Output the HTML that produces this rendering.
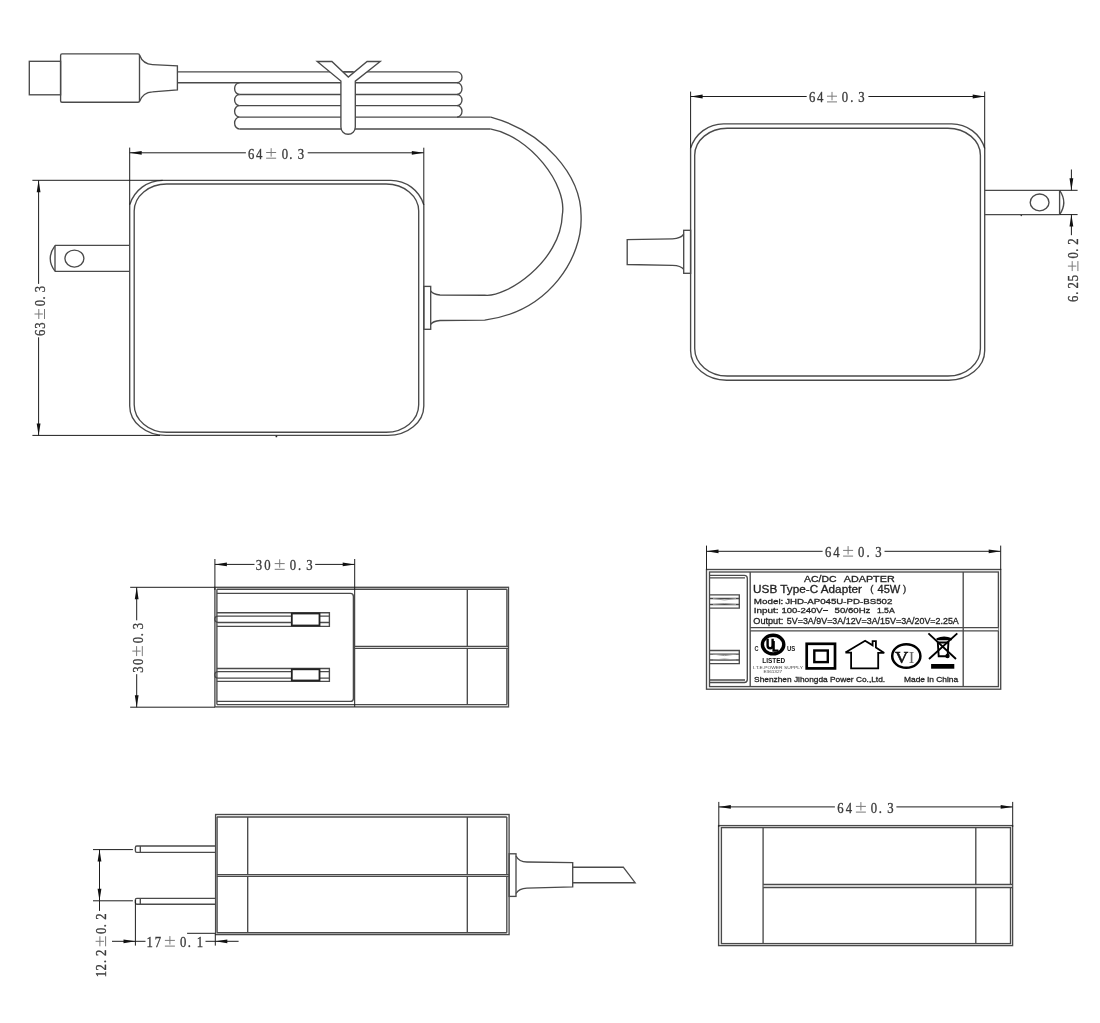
<!DOCTYPE html>
<html><head><meta charset="utf-8"><style>
html,body{margin:0;padding:0;background:#fff;}
svg{display:block;filter:grayscale(1);}

</style></head><body>
<svg width="1100" height="1023" viewBox="0 0 1100 1023">
<rect width="1100" height="1023" fill="#fff"/>
<rect x="29.3" y="61.3" width="31.30" height="33.50" stroke="#4a4a4a" stroke-width="1.35" fill="none"/>
<path d="M62,53.9 H138 Q139.5,53.9 139.5,55.4 V100.7 Q139.5,102.2 138,102.2 H62 Q60.6,102.2 60.6,100.7 V55.4 Q60.6,53.9 62,53.9 Z" stroke="#4a4a4a" stroke-width="1.35" fill="none"/>
<path d="M139.5,55 Q143,64.3 152.5,64.6 L177.4,65.9 V89.9 L152.5,91.8 Q143,92.2 139.5,101.5" stroke="#4a4a4a" stroke-width="1.35" fill="none"/>
<line x1="177.4" y1="71.8" x2="457" y2="71.8" stroke="#4a4a4a" stroke-width="1.35" fill="none"/>
<line x1="177.4" y1="82.7" x2="457" y2="82.7" stroke="#4a4a4a" stroke-width="1.35" fill="none"/>
<line x1="239.5" y1="94.5" x2="457" y2="94.5" stroke="#4a4a4a" stroke-width="1.35" fill="none"/>
<line x1="239.5" y1="105.6" x2="457" y2="105.6" stroke="#4a4a4a" stroke-width="1.35" fill="none"/>
<line x1="239.5" y1="117.1" x2="490.8" y2="117.1" stroke="#4a4a4a" stroke-width="1.35" fill="none"/>
<line x1="239.5" y1="129.0" x2="490.2" y2="129.0" stroke="#4a4a4a" stroke-width="1.35" fill="none"/>
<path d="M239.5,82.7 A4.9,5.90 0 0 0 239.5,94.5" stroke="#4a4a4a" stroke-width="1.35" fill="none"/>
<path d="M239.5,94.5 A4.9,5.55 0 0 0 239.5,105.6" stroke="#4a4a4a" stroke-width="1.35" fill="none"/>
<path d="M239.5,105.6 A4.9,5.75 0 0 0 239.5,117.1" stroke="#4a4a4a" stroke-width="1.35" fill="none"/>
<path d="M239.5,117.1 A4.9,5.95 0 0 0 239.5,129.0" stroke="#4a4a4a" stroke-width="1.35" fill="none"/>
<path d="M457,71.8 A5,5.45 0 0 1 457,82.7" stroke="#4a4a4a" stroke-width="1.35" fill="none"/>
<path d="M457,82.7 A5,5.90 0 0 1 457,94.5" stroke="#4a4a4a" stroke-width="1.35" fill="none"/>
<path d="M457,94.5 A5,5.55 0 0 1 457,105.6" stroke="#4a4a4a" stroke-width="1.35" fill="none"/>
<path d="M457,105.6 A5,5.75 0 0 1 457,117.1" stroke="#4a4a4a" stroke-width="1.35" fill="none"/>
<path d="M490.8,117.1 C543.3,131.7 581.6,174.5 581.1,217.0 C582.4,256.1 551.0,311.1 484.7,320.2 L440,320.5 Q433,321 430.7,324.5" stroke="#4a4a4a" stroke-width="1.35" fill="none"/>
<path d="M490.2,128.9 C529.7,135.8 567.7,184.6 562.3,215.0 C560.8,261.9 505.4,298.0 484.7,295.2 L440,295 Q433,294.5 430.7,290.9" stroke="#4a4a4a" stroke-width="1.35" fill="none"/>
<rect x="423.8" y="286.4" width="6.90" height="42.90" stroke="#4a4a4a" stroke-width="1.35" fill="none"/>
<path d="M317.2,61.5 L331.9,61.5 L348.3,77 L367.1,61.5 L380.2,61.5 L355.3,81.1 L355.3,127.1 A7.2,7.2 0 0 1 340.9,127.1 L340.9,81.1 Z" fill="#fff" stroke="#4a4a4a" stroke-width="1.35" />
<line x1="343.5" y1="71.8" x2="353" y2="71.8" stroke="#4a4a4a" stroke-width="1.35" fill="none"/>
<path d="M166.7,184 H386.2 A32.5,27 0 0 1 418.7,211 V404.7 A32.5,27.5 0 0 1 386.2,432.2 H166.7 A32.5,27.5 0 0 1 134.2,404.7 V211 A32.5,27 0 0 1 166.7,184 Z" stroke="#4a4a4a" stroke-width="1.35" fill="none"/>
<path d="M162.7,180.3 H390.8 A34.5,34.5 0 0 1 423.8,204.8 V405.9 A36,29.5 0 0 1 387.8,435.4 H165.7 A36,29.5 0 0 1 129.7,405.9 V204.8 A34.5,34.5 0 0 1 162.7,180.3 Z" stroke="#4a4a4a" stroke-width="1.35" fill="none"/>
<path d="M55,245.4 H129.7 M55,271.4 H129.7 M55,245.4 V271.4" stroke="#4a4a4a" stroke-width="1.35" fill="none"/>
<path d="M55,245.6 Q45.5,258.4 55,271.2" stroke="#4a4a4a" stroke-width="1.35" fill="none"/>
<ellipse cx="74.4" cy="258.6" rx="9.5" ry="8.5" stroke="#4a4a4a" stroke-width="1.35" fill="none"/>
<line x1="32.4" y1="180.3" x2="162.7" y2="180.3" stroke="#1e1e1e" stroke-width="1"/>
<line x1="32.4" y1="435.4" x2="160" y2="435.4" stroke="#1e1e1e" stroke-width="1"/>
<line x1="129.7" y1="147.6" x2="129.7" y2="204.8" stroke="#1e1e1e" stroke-width="1"/>
<line x1="423.8" y1="147.7" x2="423.8" y2="204.8" stroke="#1e1e1e" stroke-width="1"/>
<line x1="129.7" y1="152.8" x2="245.9" y2="152.8" stroke="#1e1e1e" stroke-width="1"/>
<line x1="307.7" y1="152.8" x2="423.8" y2="152.8" stroke="#1e1e1e" stroke-width="1"/>
<polygon points="129.7,152.8 141.7,150.9 141.7,154.7" fill="#111"/>
<polygon points="423.8,152.8 411.8,150.9 411.8,154.7" fill="#111"/>
<text transform="translate(251.10,158.64) scale(0.82,1)" text-anchor="middle" font-family="Liberation Serif" font-size="15.5" fill="#3a3a3a" stroke="#3a3a3a" stroke-width="0.35">6</text>
<text transform="translate(259.10,158.64) scale(0.82,1)" text-anchor="middle" font-family="Liberation Serif" font-size="15.5" fill="#3a3a3a" stroke="#3a3a3a" stroke-width="0.35">4</text>
<line x1="266.15" y1="152.50" x2="276.15" y2="152.50" stroke="#7a7a7a" stroke-width="1"/>
<line x1="271.15" y1="148.20" x2="271.15" y2="156.60" stroke="#7a7a7a" stroke-width="1"/>
<line x1="266.15" y1="158.20" x2="276.15" y2="158.20" stroke="#7a7a7a" stroke-width="1"/>
<text transform="translate(284.80,158.64) scale(0.82,1)" text-anchor="middle" font-family="Liberation Serif" font-size="15.5" fill="#3a3a3a" stroke="#3a3a3a" stroke-width="0.35">0</text>
<text transform="translate(290.90,158.64) scale(0.82,1)" text-anchor="middle" font-family="Liberation Serif" font-size="15.5" fill="#3a3a3a" stroke="#3a3a3a" stroke-width="0.35">.</text>
<text transform="translate(300.90,158.64) scale(0.82,1)" text-anchor="middle" font-family="Liberation Serif" font-size="15.5" fill="#3a3a3a" stroke="#3a3a3a" stroke-width="0.35">3</text>
<line x1="38.6" y1="180.3" x2="38.6" y2="283.9" stroke="#1e1e1e" stroke-width="1"/>
<line x1="38.6" y1="337.3" x2="38.6" y2="435.4" stroke="#1e1e1e" stroke-width="1"/>
<polygon points="38.6,180.3 36.7,192.3 40.5,192.3" fill="#111"/>
<polygon points="38.6,435.4 36.7,423.4 40.5,423.4" fill="#111"/>
<g transform="translate(39.7,0) rotate(-90)">
<text transform="translate(-332.90,5.24) scale(0.82,1)" text-anchor="middle" font-family="Liberation Serif" font-size="15.5" fill="#3a3a3a" stroke="#3a3a3a" stroke-width="0.35">6</text>
<text transform="translate(-325.70,5.24) scale(0.82,1)" text-anchor="middle" font-family="Liberation Serif" font-size="15.5" fill="#3a3a3a" stroke="#3a3a3a" stroke-width="0.35">3</text>
<line x1="-319.00" y1="-0.90" x2="-309.00" y2="-0.90" stroke="#7a7a7a" stroke-width="1"/>
<line x1="-314.00" y1="-5.20" x2="-314.00" y2="3.20" stroke="#7a7a7a" stroke-width="1"/>
<line x1="-319.00" y1="4.80" x2="-309.00" y2="4.80" stroke="#7a7a7a" stroke-width="1"/>
<text transform="translate(-303.00,5.24) scale(0.82,1)" text-anchor="middle" font-family="Liberation Serif" font-size="15.5" fill="#3a3a3a" stroke="#3a3a3a" stroke-width="0.35">0</text>
<text transform="translate(-298.00,5.24) scale(0.82,1)" text-anchor="middle" font-family="Liberation Serif" font-size="15.5" fill="#3a3a3a" stroke="#3a3a3a" stroke-width="0.35">.</text>
<text transform="translate(-289.20,5.24) scale(0.82,1)" text-anchor="middle" font-family="Liberation Serif" font-size="15.5" fill="#3a3a3a" stroke="#3a3a3a" stroke-width="0.35">3</text>
</g>
<path d="M727.2,128.2 H947.9 A32.5,27 0 0 1 980.4,155.2 V348.5 A32.5,27.5 0 0 1 947.9,376 H727.2 A32.5,27.5 0 0 1 694.7,348.5 V155.2 A32.5,27 0 0 1 727.2,128.2 Z" stroke="#4a4a4a" stroke-width="1.35" fill="none"/>
<path d="M723.6,123.8 H951.7 A34.5,34.5 0 0 1 984.7,148.3 V350.7 A36,29.5 0 0 1 948.7,380.2 H726.6 A36,29.5 0 0 1 690.6,350.7 V148.3 A34.5,34.5 0 0 1 723.6,123.8 Z" stroke="#4a4a4a" stroke-width="1.35" fill="none"/>
<line x1="690.6" y1="91.6" x2="690.6" y2="148.3" stroke="#1e1e1e" stroke-width="1"/>
<line x1="984.7" y1="91.6" x2="984.7" y2="148.3" stroke="#1e1e1e" stroke-width="1"/>
<line x1="690.6" y1="96.5" x2="806.7" y2="96.5" stroke="#1e1e1e" stroke-width="1"/>
<line x1="868.4" y1="96.5" x2="984.7" y2="96.5" stroke="#1e1e1e" stroke-width="1"/>
<polygon points="690.6,96.5 702.6,94.6 702.6,98.4" fill="#111"/>
<polygon points="984.7,96.5 972.7,94.6 972.7,98.4" fill="#111"/>
<text transform="translate(812.10,102.34) scale(0.82,1)" text-anchor="middle" font-family="Liberation Serif" font-size="15.5" fill="#3a3a3a" stroke="#3a3a3a" stroke-width="0.35">6</text>
<text transform="translate(820.20,102.34) scale(0.82,1)" text-anchor="middle" font-family="Liberation Serif" font-size="15.5" fill="#3a3a3a" stroke="#3a3a3a" stroke-width="0.35">4</text>
<line x1="827.00" y1="96.20" x2="837.00" y2="96.20" stroke="#7a7a7a" stroke-width="1"/>
<line x1="832.00" y1="91.90" x2="832.00" y2="100.30" stroke="#7a7a7a" stroke-width="1"/>
<line x1="827.00" y1="101.90" x2="837.00" y2="101.90" stroke="#7a7a7a" stroke-width="1"/>
<text transform="translate(844.85,102.34) scale(0.82,1)" text-anchor="middle" font-family="Liberation Serif" font-size="15.5" fill="#3a3a3a" stroke="#3a3a3a" stroke-width="0.35">0</text>
<text transform="translate(851.85,102.34) scale(0.82,1)" text-anchor="middle" font-family="Liberation Serif" font-size="15.5" fill="#3a3a3a" stroke="#3a3a3a" stroke-width="0.35">.</text>
<text transform="translate(861.30,102.34) scale(0.82,1)" text-anchor="middle" font-family="Liberation Serif" font-size="15.5" fill="#3a3a3a" stroke="#3a3a3a" stroke-width="0.35">3</text>
<path d="M984.7,190.3 H1059.6 M984.7,214.6 H1059.6 M1059.6,190.3 V214.6" stroke="#4a4a4a" stroke-width="1.35" fill="none"/>
<path d="M1059.6,190.3 Q1068,202.4 1059.6,214.6" stroke="#4a4a4a" stroke-width="1.35" fill="none"/>
<line x1="1059.6" y1="190.3" x2="1077.6" y2="190.3" stroke="#1e1e1e" stroke-width="1"/>
<line x1="1059.6" y1="214.6" x2="1077.6" y2="214.6" stroke="#1e1e1e" stroke-width="1"/>
<ellipse cx="1039.6" cy="202.4" rx="9.4" ry="8.4" stroke="#4a4a4a" stroke-width="1.35" fill="none"/>
<line x1="1071.4" y1="169.5" x2="1071.4" y2="190.3" stroke="#1e1e1e" stroke-width="1"/>
<line x1="1071.4" y1="214.6" x2="1071.4" y2="235.2" stroke="#1e1e1e" stroke-width="1"/>
<polygon points="1071.4,190.3 1069.5,178.3 1073.3,178.3" fill="#111"/>
<polygon points="1071.4,214.6 1069.5,226.6 1073.3,226.6" fill="#111"/>
<g transform="translate(1073.1,0) rotate(-90)">
<text transform="translate(-298.75,5.24) scale(0.82,1)" text-anchor="middle" font-family="Liberation Serif" font-size="15.5" fill="#3a3a3a" stroke="#3a3a3a" stroke-width="0.35">6</text>
<text transform="translate(-293.10,5.24) scale(0.82,1)" text-anchor="middle" font-family="Liberation Serif" font-size="15.5" fill="#3a3a3a" stroke="#3a3a3a" stroke-width="0.35">.</text>
<text transform="translate(-285.25,5.24) scale(0.82,1)" text-anchor="middle" font-family="Liberation Serif" font-size="15.5" fill="#3a3a3a" stroke="#3a3a3a" stroke-width="0.35">2</text>
<text transform="translate(-278.05,5.24) scale(0.82,1)" text-anchor="middle" font-family="Liberation Serif" font-size="15.5" fill="#3a3a3a" stroke="#3a3a3a" stroke-width="0.35">5</text>
<line x1="-271.10" y1="-0.90" x2="-261.10" y2="-0.90" stroke="#7a7a7a" stroke-width="1"/>
<line x1="-266.10" y1="-5.20" x2="-266.10" y2="3.20" stroke="#7a7a7a" stroke-width="1"/>
<line x1="-271.10" y1="4.80" x2="-261.10" y2="4.80" stroke="#7a7a7a" stroke-width="1"/>
<text transform="translate(-255.40,5.24) scale(0.82,1)" text-anchor="middle" font-family="Liberation Serif" font-size="15.5" fill="#3a3a3a" stroke="#3a3a3a" stroke-width="0.35">0</text>
<text transform="translate(-250.10,5.24) scale(0.82,1)" text-anchor="middle" font-family="Liberation Serif" font-size="15.5" fill="#3a3a3a" stroke="#3a3a3a" stroke-width="0.35">.</text>
<text transform="translate(-241.55,5.24) scale(0.82,1)" text-anchor="middle" font-family="Liberation Serif" font-size="15.5" fill="#3a3a3a" stroke="#3a3a3a" stroke-width="0.35">2</text>
</g>
<rect x="683.7" y="230.3" width="6.90" height="43.00" stroke="#4a4a4a" stroke-width="1.35" fill="none"/>
<path d="M683.7,234.2 Q681,238.6 672.5,238.8 L627.2,239.7 V264.5 L672.5,265.4 Q681,265.6 683.7,269.4" stroke="#4a4a4a" stroke-width="1.35" fill="none"/>
<rect x="214.9" y="587.3" width="293.60" height="119.60" stroke="#4a4a4a" stroke-width="1.35" fill="none"/>
<line x1="216.9" y1="589.2" x2="506.9" y2="589.2" stroke="#4a4a4a" stroke-width="1.35" fill="none"/>
<line x1="216.9" y1="704.6" x2="506.9" y2="704.6" stroke="#4a4a4a" stroke-width="1.35" fill="none"/>
<line x1="216.9" y1="589.2" x2="216.9" y2="704.6" stroke="#4a4a4a" stroke-width="1.35" fill="none"/>
<line x1="506.9" y1="589.2" x2="506.9" y2="704.6" stroke="#4a4a4a" stroke-width="1.35" fill="none"/>
<line x1="354.7" y1="559" x2="354.7" y2="706.9" stroke="#1e1e1e" stroke-width="1"/>
<line x1="467.3" y1="589.2" x2="467.3" y2="704.6" stroke="#4a4a4a" stroke-width="1.35" fill="none"/>
<rect x="355.4" y="646.3" width="152.4" height="2.1" fill="#fff"/>
<line x1="354.7" y1="646.3" x2="508.5" y2="646.3" stroke="#4a4a4a" stroke-width="1.35" fill="none"/>
<line x1="354.7" y1="648.4" x2="508.5" y2="648.4" stroke="#4a4a4a" stroke-width="1.35" fill="none"/>
<path d="M216.9,593.4 H350.4 Q353.4,593.4 353.4,596.4 V698.4 Q353.4,701.4 350.4,701.4 H216.9" stroke="#4a4a4a" stroke-width="1.35" fill="none"/>
<path d="M216.9,612.7 H329.4 V626.3 H216.9" stroke="#4a4a4a" stroke-width="1.35" fill="none"/>
<path d="M291.8,616.1 H218 A3.2,3.20 0 0 0 218,622.5 H291.8" stroke="#4a4a4a" stroke-width="1.35" fill="none"/>
<path d="M319.5,616.1 H329.4 M319.5,622.5 H329.4" stroke="#4a4a4a" stroke-width="1.35" fill="none"/>
<rect x="291.8" y="613.5" width="27.7" height="12.0" fill="#fff" stroke="#222" stroke-width="1.8"/>
<path d="M216.9,668.5 H329.4 V681.3 H216.9" stroke="#4a4a4a" stroke-width="1.35" fill="none"/>
<path d="M291.8,671.6 H218 A3.2,3.25 0 0 0 218,678.1 H291.8" stroke="#4a4a4a" stroke-width="1.35" fill="none"/>
<path d="M319.5,671.6 H329.4 M319.5,678.1 H329.4" stroke="#4a4a4a" stroke-width="1.35" fill="none"/>
<rect x="291.8" y="669.3" width="27.7" height="11.2" fill="#fff" stroke="#222" stroke-width="1.8"/>
<line x1="130.2" y1="587.3" x2="214.9" y2="587.3" stroke="#1e1e1e" stroke-width="1"/>
<line x1="130.2" y1="707.2" x2="214.9" y2="707.2" stroke="#1e1e1e" stroke-width="1"/>
<line x1="214.9" y1="559" x2="214.9" y2="590" stroke="#1e1e1e" stroke-width="1"/>
<line x1="214.9" y1="564.4" x2="254.5" y2="564.4" stroke="#1e1e1e" stroke-width="1"/>
<line x1="315.2" y1="564.4" x2="354.7" y2="564.4" stroke="#1e1e1e" stroke-width="1"/>
<polygon points="214.9,564.4 226.9,562.5 226.9,566.3" fill="#111"/>
<polygon points="354.7,564.4 342.7,562.5 342.7,566.3" fill="#111"/>
<text transform="translate(259.00,569.74) scale(0.82,1)" text-anchor="middle" font-family="Liberation Serif" font-size="15.5" fill="#3a3a3a" stroke="#3a3a3a" stroke-width="0.35">3</text>
<text transform="translate(267.50,569.74) scale(0.82,1)" text-anchor="middle" font-family="Liberation Serif" font-size="15.5" fill="#3a3a3a" stroke="#3a3a3a" stroke-width="0.35">0</text>
<line x1="274.70" y1="563.60" x2="284.70" y2="563.60" stroke="#7a7a7a" stroke-width="1"/>
<line x1="279.70" y1="559.30" x2="279.70" y2="567.70" stroke="#7a7a7a" stroke-width="1"/>
<line x1="274.70" y1="569.30" x2="284.70" y2="569.30" stroke="#7a7a7a" stroke-width="1"/>
<text transform="translate(292.80,569.74) scale(0.82,1)" text-anchor="middle" font-family="Liberation Serif" font-size="15.5" fill="#3a3a3a" stroke="#3a3a3a" stroke-width="0.35">0</text>
<text transform="translate(299.50,569.74) scale(0.82,1)" text-anchor="middle" font-family="Liberation Serif" font-size="15.5" fill="#3a3a3a" stroke="#3a3a3a" stroke-width="0.35">.</text>
<text transform="translate(309.50,569.74) scale(0.82,1)" text-anchor="middle" font-family="Liberation Serif" font-size="15.5" fill="#3a3a3a" stroke="#3a3a3a" stroke-width="0.35">3</text>
<line x1="136.7" y1="587.3" x2="136.7" y2="620.3" stroke="#1e1e1e" stroke-width="1"/>
<line x1="136.7" y1="674.2" x2="136.7" y2="707.2" stroke="#1e1e1e" stroke-width="1"/>
<polygon points="136.7,587.3 134.8,599.3 138.6,599.3" fill="#111"/>
<polygon points="136.7,707.2 134.8,695.2 138.6,695.2" fill="#111"/>
<g transform="translate(137.5,0) rotate(-90)">
<text transform="translate(-669.50,5.24) scale(0.82,1)" text-anchor="middle" font-family="Liberation Serif" font-size="15.5" fill="#3a3a3a" stroke="#3a3a3a" stroke-width="0.35">3</text>
<text transform="translate(-661.90,5.24) scale(0.82,1)" text-anchor="middle" font-family="Liberation Serif" font-size="15.5" fill="#3a3a3a" stroke="#3a3a3a" stroke-width="0.35">0</text>
<line x1="-656.10" y1="-0.90" x2="-646.10" y2="-0.90" stroke="#7a7a7a" stroke-width="1"/>
<line x1="-651.10" y1="-5.20" x2="-651.10" y2="3.20" stroke="#7a7a7a" stroke-width="1"/>
<line x1="-656.10" y1="4.80" x2="-646.10" y2="4.80" stroke="#7a7a7a" stroke-width="1"/>
<text transform="translate(-640.00,5.24) scale(0.82,1)" text-anchor="middle" font-family="Liberation Serif" font-size="15.5" fill="#3a3a3a" stroke="#3a3a3a" stroke-width="0.35">0</text>
<text transform="translate(-634.60,5.24) scale(0.82,1)" text-anchor="middle" font-family="Liberation Serif" font-size="15.5" fill="#3a3a3a" stroke="#3a3a3a" stroke-width="0.35">.</text>
<text transform="translate(-626.00,5.24) scale(0.82,1)" text-anchor="middle" font-family="Liberation Serif" font-size="15.5" fill="#3a3a3a" stroke="#3a3a3a" stroke-width="0.35">3</text>
</g>
<rect x="706.5" y="569.5" width="294.20" height="119.70" stroke="#4a4a4a" stroke-width="1.35" fill="none"/>
<rect x="709.5" y="572" width="288.90" height="114.60" stroke="#4a4a4a" stroke-width="1.35" fill="none"/>
<line x1="750.2" y1="572" x2="750.2" y2="686.6" stroke="#4a4a4a" stroke-width="1.35" fill="none"/>
<rect x="750.9" y="627.6" width="247.5" height="3.2" fill="#fff"/>
<line x1="750.2" y1="627.6" x2="998.4" y2="627.6" stroke="#4a4a4a" stroke-width="1.35" fill="none"/>
<line x1="750.2" y1="630.8" x2="998.4" y2="630.8" stroke="#4a4a4a" stroke-width="1.35" fill="none"/>
<line x1="963.2" y1="572" x2="963.2" y2="686.6" stroke="#4a4a4a" stroke-width="1.35" fill="none"/>
<path d="M709.5,575.3 H744.3 Q747.3,575.3 747.3,578.3 V679.5 Q747.3,682.5 744.3,682.5 H709.5" stroke="#4a4a4a" stroke-width="1.35" fill="none"/>
<line x1="709.5" y1="577.8" x2="745" y2="577.8" stroke="#4a4a4a" stroke-width="1.35" fill="none"/>
<line x1="709.5" y1="680" x2="745" y2="680" stroke="#4a4a4a" stroke-width="1.35" fill="none"/>
<path d="M709.5,594.9 H739.3 V608.1 H709.5" stroke="#4a4a4a" stroke-width="1.35" fill="none"/>
<path d="M709.5,598.5 H739.3 M709.5,604.5 H739.3" stroke="#4a4a4a" stroke-width="1.35" fill="none"/>
<path d="M713,598.5 Q724.4,601.5 736,598.5 M713,604.5 Q724.4,602.5 736,604.5" stroke="#999" stroke-width="1" fill="none"/>
<path d="M709.5,650.5 H739.3 V663.6 H709.5" stroke="#4a4a4a" stroke-width="1.35" fill="none"/>
<path d="M709.5,654.1 H739.3 M709.5,660.0 H739.3" stroke="#4a4a4a" stroke-width="1.35" fill="none"/>
<path d="M713,654.1 Q724.4,657.1 736,654.1 M713,660.0 Q724.4,658.0 736,660.0" stroke="#999" stroke-width="1" fill="none"/>
<line x1="706.5" y1="545.6" x2="706.5" y2="570" stroke="#1e1e1e" stroke-width="1"/>
<line x1="1000.7" y1="545.6" x2="1000.7" y2="570" stroke="#1e1e1e" stroke-width="1"/>
<line x1="706.5" y1="551.3" x2="822.6" y2="551.3" stroke="#1e1e1e" stroke-width="1"/>
<line x1="884.5" y1="551.3" x2="1000.7" y2="551.3" stroke="#1e1e1e" stroke-width="1"/>
<polygon points="706.5,551.3 718.5,549.4 718.5,553.2" fill="#111"/>
<polygon points="1000.7,551.3 988.7,549.4 988.7,553.2" fill="#111"/>
<text transform="translate(828.10,556.54) scale(0.82,1)" text-anchor="middle" font-family="Liberation Serif" font-size="15.5" fill="#3a3a3a" stroke="#3a3a3a" stroke-width="0.35">6</text>
<text transform="translate(836.50,556.54) scale(0.82,1)" text-anchor="middle" font-family="Liberation Serif" font-size="15.5" fill="#3a3a3a" stroke="#3a3a3a" stroke-width="0.35">4</text>
<line x1="843.10" y1="550.40" x2="853.10" y2="550.40" stroke="#7a7a7a" stroke-width="1"/>
<line x1="848.10" y1="546.10" x2="848.10" y2="554.50" stroke="#7a7a7a" stroke-width="1"/>
<line x1="843.10" y1="556.10" x2="853.10" y2="556.10" stroke="#7a7a7a" stroke-width="1"/>
<text transform="translate(861.20,556.54) scale(0.82,1)" text-anchor="middle" font-family="Liberation Serif" font-size="15.5" fill="#3a3a3a" stroke="#3a3a3a" stroke-width="0.35">0</text>
<text transform="translate(868.00,556.54) scale(0.82,1)" text-anchor="middle" font-family="Liberation Serif" font-size="15.5" fill="#3a3a3a" stroke="#3a3a3a" stroke-width="0.35">.</text>
<text transform="translate(878.30,556.54) scale(0.82,1)" text-anchor="middle" font-family="Liberation Serif" font-size="15.5" fill="#3a3a3a" stroke="#3a3a3a" stroke-width="0.35">3</text>
<text x="804" y="581.8" font-family="Liberation Sans" font-size="8.4" font-weight="normal" fill="#222" stroke="#222" stroke-width="0.28" text-anchor="start" textLength="32.6" lengthAdjust="spacingAndGlyphs">AC/DC</text>
<text x="843.7" y="581.8" font-family="Liberation Sans" font-size="8.4" font-weight="normal" fill="#222" stroke="#222" stroke-width="0.28" text-anchor="start" textLength="51" lengthAdjust="spacingAndGlyphs">ADAPTER</text>
<text x="753.1" y="592.6" font-family="Liberation Sans" font-size="10" font-weight="normal" fill="#222" stroke="#222" stroke-width="0.28" text-anchor="start" textLength="108.8" lengthAdjust="spacingAndGlyphs">USB Type-C Adapter</text>
<text x="870.2" y="592.2" font-family="Liberation Sans" font-size="9" font-weight="normal" fill="#222" stroke="#222" stroke-width="0.28" text-anchor="start" textLength="3.2" lengthAdjust="spacingAndGlyphs">(</text>
<text x="877.5" y="592.6" font-family="Liberation Sans" font-size="10" font-weight="normal" fill="#222" stroke="#222" stroke-width="0.28" text-anchor="start" textLength="22.8" lengthAdjust="spacingAndGlyphs">45W</text>
<text x="903" y="592.2" font-family="Liberation Sans" font-size="9" font-weight="normal" fill="#222" stroke="#222" stroke-width="0.28" text-anchor="start" textLength="3.2" lengthAdjust="spacingAndGlyphs">)</text>
<text x="753.8" y="603.9" font-family="Liberation Sans" font-size="7.7" font-weight="normal" fill="#222" stroke="#222" stroke-width="0.28" text-anchor="start" textLength="29.5" lengthAdjust="spacingAndGlyphs">Model:</text>
<text x="785.2" y="603.9" font-family="Liberation Sans" font-size="7.7" font-weight="normal" fill="#222" stroke="#222" stroke-width="0.28" text-anchor="start" textLength="107.2" lengthAdjust="spacingAndGlyphs">JHD-AP045U-PD-BS502</text>
<text x="753.8" y="613.1" font-family="Liberation Sans" font-size="7.7" font-weight="normal" fill="#222" stroke="#222" stroke-width="0.28" text-anchor="start" textLength="24.8" lengthAdjust="spacingAndGlyphs">Input:</text>
<text x="781.4" y="613.1" font-family="Liberation Sans" font-size="7.7" font-weight="normal" fill="#222" stroke="#222" stroke-width="0.28" text-anchor="start" textLength="46.9" lengthAdjust="spacingAndGlyphs">100-240V~</text>
<text x="834.6" y="613.1" font-family="Liberation Sans" font-size="7.7" font-weight="normal" fill="#222" stroke="#222" stroke-width="0.28" text-anchor="start" textLength="35.8" lengthAdjust="spacingAndGlyphs">50/60Hz</text>
<text x="876.9" y="613.1" font-family="Liberation Sans" font-size="7.7" font-weight="normal" fill="#222" stroke="#222" stroke-width="0.28" text-anchor="start" textLength="17.8" lengthAdjust="spacingAndGlyphs">1.5A</text>
<text x="753.3" y="624.2" font-family="Liberation Sans" font-size="8.2" font-weight="normal" fill="#222" stroke="#222" stroke-width="0.28" text-anchor="start" textLength="30" lengthAdjust="spacingAndGlyphs">Output:</text>
<text x="786.8" y="624.2" font-family="Liberation Sans" font-size="8.2" font-weight="normal" fill="#222" stroke="#222" stroke-width="0.28" text-anchor="start" textLength="172" lengthAdjust="spacingAndGlyphs">5V=3A/9V=3A/12V=3A/15V=3A/20V=2.25A</text>
<text x="754.1" y="681.8" font-family="Liberation Sans" font-size="7.8" font-weight="normal" fill="#222" stroke="#222" stroke-width="0.28" text-anchor="start" textLength="131" lengthAdjust="spacingAndGlyphs">Shenzhen Jihongda Power Co.,Ltd.</text>
<text x="904" y="681.7" font-family="Liberation Sans" font-size="7.8" font-weight="normal" fill="#222" stroke="#222" stroke-width="0.28" text-anchor="start" textLength="54.2" lengthAdjust="spacingAndGlyphs">Made in China</text>
<ellipse cx="773.1" cy="644.6" rx="10.7" ry="9.3" fill="none" stroke="#000" stroke-width="3.4"/>
<path d="M767.6,638.8 V645.5 Q767.6,648.3 770.2,648.3 Q772.6,648.3 772.6,645.5 V638.8" fill="none" stroke="#000" stroke-width="2.4"/>
<path d="M773.6,641 V650.6 H778.4" fill="none" stroke="#000" stroke-width="2.4"/>
<text x="754.6" y="650.8" font-family="Liberation Sans" font-weight="bold" font-size="7" fill="#222" textLength="4" lengthAdjust="spacingAndGlyphs">C</text>
<text x="787" y="650.7" font-family="Liberation Sans" font-weight="bold" font-size="6.8" fill="#222" textLength="8.4" lengthAdjust="spacingAndGlyphs">US</text>
<text x="762.2" y="663.3" font-family="Liberation Sans" font-weight="bold" font-size="6.8" fill="#111" textLength="23" lengthAdjust="spacingAndGlyphs">LISTED</text>
<text x="753" y="668.6" font-family="Liberation Sans" font-size="4.2" fill="#444" textLength="50" lengthAdjust="spacingAndGlyphs">I.T.E.POWER SUPPLY</text>
<text x="763.4" y="672.8" font-family="Liberation Sans" font-size="4.2" fill="#444" textLength="18.8" lengthAdjust="spacingAndGlyphs">E361327</text>
<rect x="806.7" y="643.8" width="28.3" height="24.6" fill="none" stroke="#000" stroke-width="2.7"/>
<rect x="814.3" y="650.5" width="13.5" height="11.6" fill="none" stroke="#000" stroke-width="2.4"/>
<path d="M845.4,652.6 L865.1,640.7 L872.6,645.3 V641.1 H875.9 V647.4 L884.3,652.9 M845.4,652.6 H851.1 V668.3 H878.2 V652.9 H884.3" fill="none" stroke="#000" stroke-width="1.8" stroke-linejoin="miter"/>
<ellipse cx="906.3" cy="656" rx="14.1" ry="11.8" fill="none" stroke="#000" stroke-width="2.5"/>
<text x="895" y="663.3" font-family="Liberation Serif" font-size="17.5" fill="#111" stroke="#111" stroke-width="0.6" textLength="13.2" lengthAdjust="spacingAndGlyphs">V</text>
<text x="908.8" y="663.3" font-family="Liberation Serif" font-size="17.5" fill="#666" textLength="5.6" lengthAdjust="spacingAndGlyphs">I</text>
<g fill="none" stroke="#000" stroke-width="1.9"><path d="M928.4,633.4 L956,659 M957.3,633.4 L929,659"/><path d="M937.8,642.5 H948.4 L947.6,656.3 H938.7 Z"/></g>
<path d="M936.5,638.3 Q944,634.6 951.9,638.3 V640.3 H936.5 Z" fill="#000"/>
<circle cx="947.5" cy="656" r="2.2" fill="#000"/>
<rect x="931.1" y="664" width="23.2" height="4.7" fill="#000"/>
<rect x="215.6" y="814.5" width="293.50" height="120.10" stroke="#4a4a4a" stroke-width="1.35" fill="none"/>
<line x1="216.9" y1="817" x2="506.8" y2="817" stroke="#4a4a4a" stroke-width="1.35" fill="none"/>
<line x1="216.9" y1="932.7" x2="506.8" y2="932.7" stroke="#4a4a4a" stroke-width="1.35" fill="none"/>
<line x1="217.1" y1="817" x2="217.1" y2="932.7" stroke="#4a4a4a" stroke-width="1.35" fill="none"/>
<line x1="506.8" y1="817" x2="506.8" y2="932.7" stroke="#4a4a4a" stroke-width="1.35" fill="none"/>
<line x1="247.7" y1="817" x2="247.7" y2="932.7" stroke="#4a4a4a" stroke-width="1.35" fill="none"/>
<line x1="467.3" y1="817" x2="467.3" y2="932.7" stroke="#4a4a4a" stroke-width="1.35" fill="none"/>
<rect x="217.8" y="874.6" width="290.6" height="1.8" fill="#fff"/>
<line x1="216.9" y1="874.6" x2="509.1" y2="874.6" stroke="#4a4a4a" stroke-width="1.35" fill="none"/>
<line x1="216.9" y1="876.4" x2="509.1" y2="876.4" stroke="#4a4a4a" stroke-width="1.35" fill="none"/>
<path d="M215.6,846 H136.8 Q135.4,846 135.4,847.4 V851.0 Q135.4,852.4 136.8,852.4 H215.6" stroke="#4a4a4a" stroke-width="1.35" fill="none"/>
<line x1="140.3" y1="846" x2="140.3" y2="852.4" stroke="#4a4a4a" stroke-width="1.35" fill="none"/>
<path d="M215.6,898.3 H136.8 Q135.4,898.3 135.4,899.7 V902.8 Q135.4,904.2 136.8,904.2 H215.6" stroke="#4a4a4a" stroke-width="1.35" fill="none"/>
<line x1="140.3" y1="898.3" x2="140.3" y2="904.2" stroke="#4a4a4a" stroke-width="1.35" fill="none"/>
<rect x="509.1" y="853.8" width="6.90" height="42.60" stroke="#4a4a4a" stroke-width="1.35" fill="none"/>
<path d="M516,856 Q519,862 526.9,862 L572.7,862.6 V886.9 L526.9,888.2 Q519,888.5 516,893.5" stroke="#4a4a4a" stroke-width="1.35" fill="none"/>
<path d="M572.7,867.2 H623.3 L635.1,882.7 H572.7" stroke="#4a4a4a" stroke-width="1.35" fill="none"/>
<line x1="93" y1="849.6" x2="132.9" y2="849.6" stroke="#1e1e1e" stroke-width="1"/>
<line x1="93" y1="900.8" x2="132.9" y2="900.8" stroke="#1e1e1e" stroke-width="1"/>
<line x1="99.5" y1="849.6" x2="99.5" y2="900.8" stroke="#1e1e1e" stroke-width="1"/>
<line x1="99.5" y1="900.8" x2="99.5" y2="910.9" stroke="#1e1e1e" stroke-width="1"/>
<polygon points="99.5,849.6 97.6,861.6 101.4,861.6" fill="#111"/>
<polygon points="99.5,900.8 97.6,888.8 101.4,888.8" fill="#111"/>
<g transform="translate(100.8,0) rotate(-90)">
<text transform="translate(-974.00,5.24) scale(0.82,1)" text-anchor="middle" font-family="Liberation Serif" font-size="15.5" fill="#3a3a3a" stroke="#3a3a3a" stroke-width="0.35">1</text>
<text transform="translate(-967.30,5.24) scale(0.82,1)" text-anchor="middle" font-family="Liberation Serif" font-size="15.5" fill="#3a3a3a" stroke="#3a3a3a" stroke-width="0.35">2</text>
<text transform="translate(-961.30,5.24) scale(0.82,1)" text-anchor="middle" font-family="Liberation Serif" font-size="15.5" fill="#3a3a3a" stroke="#3a3a3a" stroke-width="0.35">.</text>
<text transform="translate(-952.80,5.24) scale(0.82,1)" text-anchor="middle" font-family="Liberation Serif" font-size="15.5" fill="#3a3a3a" stroke="#3a3a3a" stroke-width="0.35">2</text>
<line x1="-946.30" y1="-0.90" x2="-936.30" y2="-0.90" stroke="#7a7a7a" stroke-width="1"/>
<line x1="-941.30" y1="-5.20" x2="-941.30" y2="3.20" stroke="#7a7a7a" stroke-width="1"/>
<line x1="-946.30" y1="4.80" x2="-936.30" y2="4.80" stroke="#7a7a7a" stroke-width="1"/>
<text transform="translate(-930.80,5.24) scale(0.82,1)" text-anchor="middle" font-family="Liberation Serif" font-size="15.5" fill="#3a3a3a" stroke="#3a3a3a" stroke-width="0.35">0</text>
<text transform="translate(-925.70,5.24) scale(0.82,1)" text-anchor="middle" font-family="Liberation Serif" font-size="15.5" fill="#3a3a3a" stroke="#3a3a3a" stroke-width="0.35">.</text>
<text transform="translate(-916.50,5.24) scale(0.82,1)" text-anchor="middle" font-family="Liberation Serif" font-size="15.5" fill="#3a3a3a" stroke="#3a3a3a" stroke-width="0.35">2</text>
</g>
<line x1="135.4" y1="900" x2="135.4" y2="945.6" stroke="#1e1e1e" stroke-width="1"/>
<line x1="215.3" y1="934" x2="215.3" y2="945.6" stroke="#1e1e1e" stroke-width="1"/>
<line x1="187.1" y1="933.3" x2="215.3" y2="933.3" stroke="#1e1e1e" stroke-width="1"/>
<line x1="112" y1="941.3" x2="145.5" y2="941.3" stroke="#1e1e1e" stroke-width="1"/>
<line x1="205.5" y1="941.3" x2="238.6" y2="941.3" stroke="#1e1e1e" stroke-width="1"/>
<polygon points="135.5,941.3 123.5,939.4 123.5,943.2" fill="#111"/>
<polygon points="215.3,941.3 227.3,939.4 227.3,943.2" fill="#111"/>
<text transform="translate(149.60,946.54) scale(0.82,1)" text-anchor="middle" font-family="Liberation Serif" font-size="15.5" fill="#3a3a3a" stroke="#3a3a3a" stroke-width="0.35">1</text>
<text transform="translate(157.80,946.54) scale(0.82,1)" text-anchor="middle" font-family="Liberation Serif" font-size="15.5" fill="#3a3a3a" stroke="#3a3a3a" stroke-width="0.35">7</text>
<line x1="164.90" y1="940.40" x2="174.90" y2="940.40" stroke="#7a7a7a" stroke-width="1"/>
<line x1="169.90" y1="936.10" x2="169.90" y2="944.50" stroke="#7a7a7a" stroke-width="1"/>
<line x1="164.90" y1="946.10" x2="174.90" y2="946.10" stroke="#7a7a7a" stroke-width="1"/>
<text transform="translate(183.20,946.54) scale(0.82,1)" text-anchor="middle" font-family="Liberation Serif" font-size="15.5" fill="#3a3a3a" stroke="#3a3a3a" stroke-width="0.35">0</text>
<text transform="translate(189.40,946.54) scale(0.82,1)" text-anchor="middle" font-family="Liberation Serif" font-size="15.5" fill="#3a3a3a" stroke="#3a3a3a" stroke-width="0.35">.</text>
<text transform="translate(199.90,946.54) scale(0.82,1)" text-anchor="middle" font-family="Liberation Serif" font-size="15.5" fill="#3a3a3a" stroke="#3a3a3a" stroke-width="0.35">1</text>
<rect x="718.6" y="825.6" width="294.00" height="120.00" stroke="#4a4a4a" stroke-width="1.35" fill="none"/>
<rect x="721.4" y="827.6" width="289.10" height="116.00" stroke="#4a4a4a" stroke-width="1.35" fill="none"/>
<line x1="763.1" y1="827.8" x2="763.1" y2="943.6" stroke="#4a4a4a" stroke-width="1.35" fill="none"/>
<line x1="975.8" y1="827.8" x2="975.8" y2="943.6" stroke="#4a4a4a" stroke-width="1.35" fill="none"/>
<rect x="763.8" y="884.5" width="248.3" height="3" fill="#fff"/>
<line x1="763.1" y1="884.5" x2="1012.7" y2="884.5" stroke="#4a4a4a" stroke-width="1.35" fill="none"/>
<line x1="763.1" y1="887.5" x2="1012.7" y2="887.5" stroke="#4a4a4a" stroke-width="1.35" fill="none"/>
<line x1="718.8" y1="801.9" x2="718.8" y2="827" stroke="#1e1e1e" stroke-width="1"/>
<line x1="1012.7" y1="801.9" x2="1012.7" y2="827" stroke="#1e1e1e" stroke-width="1"/>
<line x1="718.8" y1="806.9" x2="834.9" y2="806.9" stroke="#1e1e1e" stroke-width="1"/>
<line x1="896.4" y1="806.9" x2="1012.7" y2="806.9" stroke="#1e1e1e" stroke-width="1"/>
<polygon points="718.8,806.9 730.8,805.0 730.8,808.8" fill="#111"/>
<polygon points="1012.7,806.9 1000.7,805.0 1000.7,808.8" fill="#111"/>
<text transform="translate(840.40,812.54) scale(0.82,1)" text-anchor="middle" font-family="Liberation Serif" font-size="15.5" fill="#3a3a3a" stroke="#3a3a3a" stroke-width="0.35">6</text>
<text transform="translate(848.90,812.54) scale(0.82,1)" text-anchor="middle" font-family="Liberation Serif" font-size="15.5" fill="#3a3a3a" stroke="#3a3a3a" stroke-width="0.35">4</text>
<line x1="855.90" y1="806.40" x2="865.90" y2="806.40" stroke="#7a7a7a" stroke-width="1"/>
<line x1="860.90" y1="802.10" x2="860.90" y2="810.50" stroke="#7a7a7a" stroke-width="1"/>
<line x1="855.90" y1="812.10" x2="865.90" y2="812.10" stroke="#7a7a7a" stroke-width="1"/>
<text transform="translate(873.80,812.54) scale(0.82,1)" text-anchor="middle" font-family="Liberation Serif" font-size="15.5" fill="#3a3a3a" stroke="#3a3a3a" stroke-width="0.35">0</text>
<text transform="translate(880.30,812.54) scale(0.82,1)" text-anchor="middle" font-family="Liberation Serif" font-size="15.5" fill="#3a3a3a" stroke="#3a3a3a" stroke-width="0.35">.</text>
<text transform="translate(890.40,812.54) scale(0.82,1)" text-anchor="middle" font-family="Liberation Serif" font-size="15.5" fill="#3a3a3a" stroke="#3a3a3a" stroke-width="0.35">3</text>
<circle cx="276.4" cy="436.4" r="0.9" fill="#222"/>
<circle cx="1021.3" cy="215.5" r="0.8" fill="#333"/>
</svg></body></html>
